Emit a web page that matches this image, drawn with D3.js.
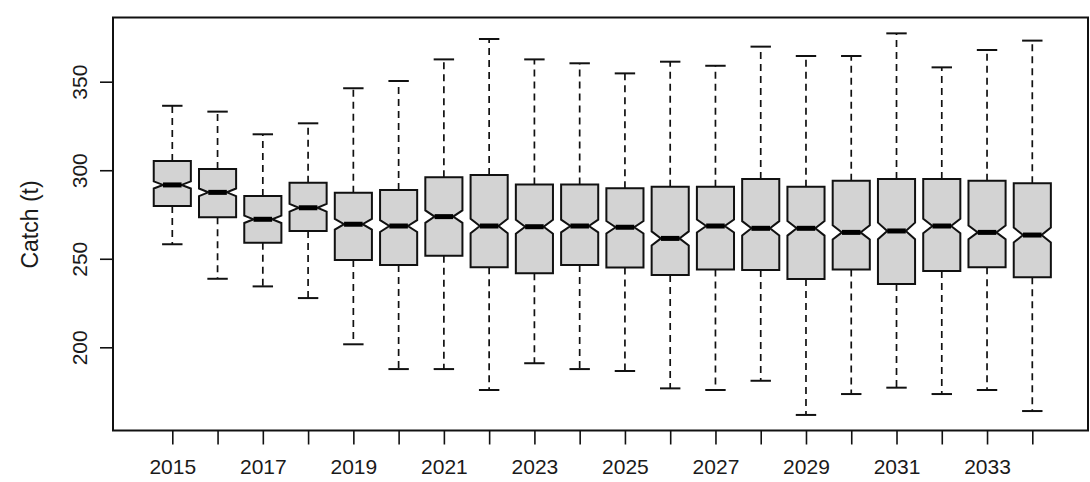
<!DOCTYPE html>
<html><head><meta charset="utf-8">
<script src="https://cdn.jsdelivr.net/npm/d3@7"></script>
<style>
body{margin:0;background:#fff}
svg{display:block}
text{font-family:"Liberation Sans",Arial,sans-serif;fill:#1a1a1a}
</style>
</head><body>
<svg id="c" width="1090" height="482"></svg>
<script>
// ---- data ----
const years = [2015,2016,2017,2018,2019,2020,2021,2022,2023,2024,2025,2026,2027,2028,2029,2030,2031,2032,2033,2034];
const upperWhisker = [336.4,333.1,320.3,326.5,346.3,350.4,362.6,374.1,362.6,360.4,354.7,361.3,359.0,369.8,364.5,364.5,377.3,358.1,367.9,373.2];
const q3Values     = [305.2,300.7,285.4,293.0,287.3,288.8,296.0,297.3,292.0,292.0,289.8,290.7,290.7,295.0,290.7,294.1,295.0,295.0,294.1,292.6];
const medianValues = [291.7,287.5,272.3,278.8,269.5,268.5,273.8,268.5,268.1,268.5,267.8,261.5,268.5,267.2,267.2,264.9,265.7,268.5,264.9,263.4];
const q1Values     = [279.8,273.4,259.1,265.7,249.3,246.5,251.7,245.2,241.8,246.5,245.0,240.8,244.0,243.7,238.6,244.0,235.7,243.1,245.2,239.5];
const lowerWhisker = [258.2,238.7,234.4,227.8,201.7,187.7,187.7,175.9,191.0,187.7,186.6,176.8,175.9,181.1,161.8,173.6,177.2,173.6,175.9,164.0];
const xTickLabels  = ["2015","","2017","","2019","","2021","","2023","","2025","","2027","","2029","","2031","","2033",""];
const yTickValues  = [200,250,300,350];
const yLabel = "Catch (t)";
const sampleSize = 400; // used for notch half-height (R: 1.58*IQR/sqrt(n))

// ---- layout ----
const frame = {left:113, right:1088, top:17.5, bottom:430.5};
const x = d3.scaleLinear().domain([2015,2034]).range([172.3,1032.3]);
const y = d3.scaleLinear().domain([200,350]).range([347.3,81.7]);
const step = x(2016)-x(2015);
const hw = step*0.41;
const notchFrac = 0.5;

const svg = d3.select("#c");

const boxes = years.map((yr,i)=>({
  year:yr, lo:lowerWhisker[i], q1:q1Values[i], med:medianValues[i], q3:q3Values[i], hi:upperWhisker[i],
  notch:1.58*(q3Values[i]-q1Values[i])/Math.sqrt(sampleSize)
}));

const g = svg.append("g");

// whiskers (dashed)
g.selectAll(".wu").data(boxes).join("line")
  .attr("x1",d=>x(d.year)).attr("x2",d=>x(d.year))
  .attr("y1",d=>y(d.q3)).attr("y2",d=>y(d.hi))
  .attr("stroke","#111").attr("stroke-width",1.7).attr("stroke-dasharray","7,5");
g.selectAll(".wl").data(boxes).join("line")
  .attr("x1",d=>x(d.year)).attr("x2",d=>x(d.year))
  .attr("y1",d=>y(d.q1)).attr("y2",d=>y(d.lo))
  .attr("stroke","#111").attr("stroke-width",1.7).attr("stroke-dasharray","7,5");
// staples
const sw = hw*0.55;
g.selectAll(".su").data(boxes).join("line")
  .attr("x1",d=>x(d.year)-sw).attr("x2",d=>x(d.year)+sw)
  .attr("y1",d=>y(d.hi)).attr("y2",d=>y(d.hi))
  .attr("stroke","#111").attr("stroke-width",2);
g.selectAll(".sl").data(boxes).join("line")
  .attr("x1",d=>x(d.year)-sw).attr("x2",d=>x(d.year)+sw)
  .attr("y1",d=>y(d.lo)).attr("y2",d=>y(d.lo))
  .attr("stroke","#111").attr("stroke-width",2);

// notched boxes
g.selectAll(".box").data(boxes).join("path")
  .attr("d",d=>{
    const c=x(d.year);
    const pts=[
      [c-hw,y(d.q1)],[c+hw,y(d.q1)],[c+hw,y(d.med-d.notch)],[c+hw*notchFrac,y(d.med)],
      [c+hw,y(d.med+d.notch)],[c+hw,y(d.q3)],[c-hw,y(d.q3)],[c-hw,y(d.med+d.notch)],
      [c-hw*notchFrac,y(d.med)],[c-hw,y(d.med-d.notch)]
    ];
    return "M"+pts.map(p=>p.join(",")).join("L")+"Z";
  })
  .attr("fill","#d3d3d3").attr("stroke","#111").attr("stroke-width",2).attr("stroke-linejoin","miter");

// medians
g.selectAll(".med").data(boxes).join("line")
  .attr("x1",d=>x(d.year)-hw*notchFrac).attr("x2",d=>x(d.year)+hw*notchFrac)
  .attr("y1",d=>y(d.med)).attr("y2",d=>y(d.med))
  .attr("stroke","#000").attr("stroke-width",5);

// frame
svg.append("rect").attr("x",frame.left).attr("y",frame.top)
  .attr("width",frame.right-frame.left).attr("height",frame.bottom-frame.top)
  .attr("fill","none").attr("stroke","#111").attr("stroke-width",2);

// x axis
const xa = svg.append("g").attr("transform",`translate(0,${frame.bottom})`)
  .call(d3.axisBottom(x).tickValues(years).tickSize(14).tickFormat((d,i)=>xTickLabels[i]));
xa.select(".domain").remove();
xa.selectAll(".tick line").attr("stroke","#111").attr("stroke-width",1.6);
xa.selectAll(".tick text").attr("y",29).attr("dy","0.71em").attr("font-size",21).attr("fill","#1a1a1a");

// y axis
const ya = svg.append("g").attr("transform",`translate(${frame.left},0)`)
  .call(d3.axisLeft(y).tickValues(yTickValues).tickSize(13));
ya.select(".domain").remove();
ya.selectAll(".tick line").attr("stroke","#111").attr("stroke-width",1.6);
ya.selectAll(".tick text").attr("x",null).attr("dy",null)
  .attr("transform","translate(-33.5,0) rotate(-90)")
  .attr("text-anchor","middle").attr("dy","0.35em").attr("font-size",21).attr("fill","#1a1a1a");

// y label
svg.append("text").attr("transform","translate(29.5,224.5) rotate(-90)")
  .attr("text-anchor","middle").attr("dy","0.35em").attr("font-size",23).text(yLabel);
</script>
</body></html>
